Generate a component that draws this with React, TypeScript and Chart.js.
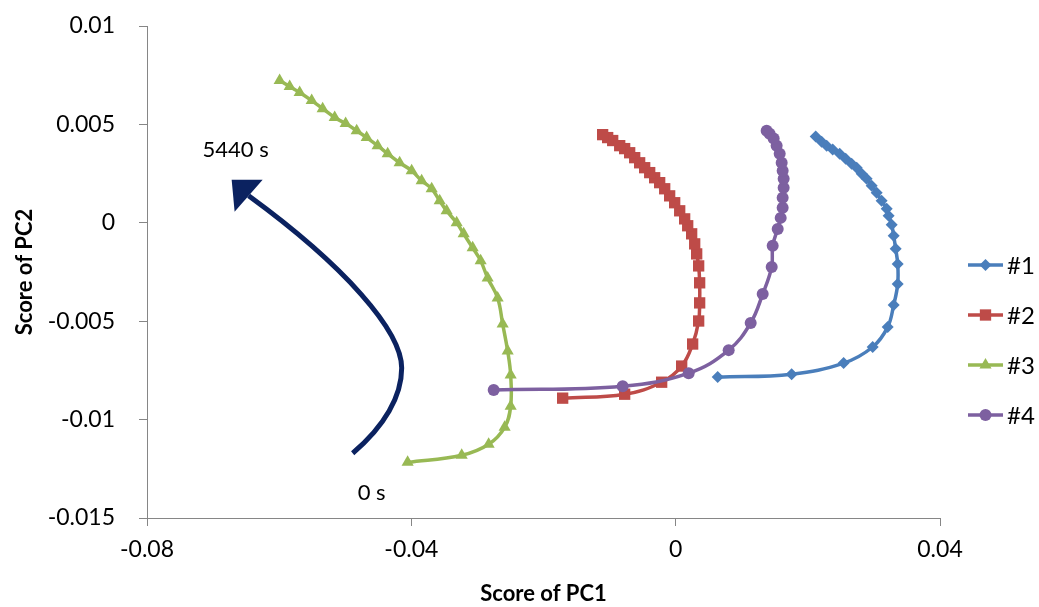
import React, { useEffect, useRef } from 'react';
import { Chart, registerables } from 'chart.js';
import { drawPoint } from 'chart.js/helpers';

Chart.register(...registerables);

// Axis ticks
const xTickValues = [-0.08, -0.04, 0, 0.04];
const xTickLabels = ['-0.08', '-0.04', '0', '0.04'];
const yTickValues = [-0.015, -0.01, -0.005, 0, 0.005, 0.01];
const yTickLabels = ['-0.015', '-0.01', '-0.005', '0', '0.005', '0.01'];

// Score trajectories (PC1, PC2), from 0 s to 5440 s
const s1PC1 = [0.00636, 0.01755, 0.02542, 0.02981, 0.03208, 0.03299, 0.0336, 0.0336, 0.03329, 0.03299, 0.03269, 0.03223, 0.03193, 0.03117, 0.03042, 0.02966, 0.0289, 0.02815, 0.02739, 0.02663, 0.02573, 0.02482, 0.02376, 0.02285, 0.02209, 0.02119];
const s1PC2 = [-0.00784, -0.00769, -0.00713, -0.00631, -0.0053, -0.00418, -0.00311, -0.00209, -0.00132, -0.00066, -0.0001, 0.00036, 0.00071, 0.00112, 0.00153, 0.00188, 0.00224, 0.00249, 0.0028, 0.003, 0.00326, 0.00351, 0.00372, 0.00392, 0.00412, 0.00438];

const s2PC1 = [-0.0171, -0.00772, -0.00212, 0.00091, 0.00257, 0.00348, 0.00363, 0.00363, 0.00348, 0.00318, 0.00288, 0.00242, 0.00182, 0.00136, 0.00061, -0.00015, -0.00091, -0.00166, -0.00242, -0.00318, -0.00393, -0.00469, -0.00545, -0.0062, -0.00696, -0.00772, -0.00847, -0.00953, -0.01029, -0.01105];
const s2PC2 = [-0.00891, -0.00871, -0.0081, -0.00728, -0.00616, -0.00499, -0.00407, -0.00305, -0.00219, -0.00158, -0.00107, -0.00056, -0.00015, 0.0002, 0.00061, 0.00102, 0.00137, 0.00173, 0.00204, 0.00229, 0.00255, 0.0028, 0.00305, 0.00331, 0.00356, 0.00377, 0.00392, 0.00418, 0.00433, 0.00448];

const s3PC1 = [-0.04056, -0.03238, -0.0283, -0.02588, -0.02497, -0.02497, -0.02542, -0.02618, -0.02694, -0.02845, -0.02951, -0.03072, -0.03208, -0.03314, -0.03466, -0.03571, -0.03692, -0.03844, -0.03995, -0.04177, -0.04358, -0.0451, -0.04676, -0.04827, -0.04994, -0.0516, -0.05342, -0.05508, -0.0569, -0.05841, -0.05993];
const s3PC2 = [-0.01217, -0.01181, -0.01125, -0.01039, -0.00932, -0.00774, -0.00652, -0.00514, -0.00382, -0.0028, -0.00193, -0.00127, -0.00056, 0.0, 0.00061, 0.00112, 0.00173, 0.00214, 0.00265, 0.00305, 0.00351, 0.00392, 0.00433, 0.00468, 0.00504, 0.00535, 0.0058, 0.00621, 0.00662, 0.00692, 0.00723];

const s4PC1 = [-0.02754, -0.00802, 0.00197, 0.00802, 0.01135, 0.01317, 0.01453, 0.01468, 0.01544, 0.01589, 0.01619, 0.01619, 0.01634, 0.01634, 0.01619, 0.01604, 0.01574, 0.01528, 0.01483, 0.01422, 0.01377];
const s4PC2 = [-0.0085, -0.0083, -0.00764, -0.00647, -0.00509, -0.00362, -0.00224, -0.00117, -0.00031, 0.00025, 0.00076, 0.00127, 0.00178, 0.00224, 0.00265, 0.00305, 0.00351, 0.00392, 0.00428, 0.00453, 0.00468];

const seriesNames = ['#1', '#2', '#3', '#4'];
const seriesColors = ['#4A7EBB', '#BE4B48', '#98B954', '#7D60A0'];
const seriesMarkers = ['rectRot', 'rect', 'triangle', 'circle'];
const markerRadius = [6, 8, 7, 6];

// Time-direction arrow: two cubic segments [start, c1, c2, end], in PC1/PC2 units
const arrowPC1 = [-0.04888, -0.04404, -0.04146, -0.04146, -0.04146, -0.05009, -0.06462];
const arrowPC2 = [-0.01171, -0.01034, -0.00881, -0.00738, -0.0055, -0.00219, 0.00137];
const arrowHeadPC1 = [-0.06719, -0.0625, -0.06674];
const arrowHeadPC2 = [0.00219, 0.00219, 0.00056];
const timeLabels = ['0 s', '5440 s'];
const timeLabelPC1 = [-0.046, -0.06659];
const timeLabelPC2 = [-0.0137, 0.00372];

const FONT = 'Lato, "Open Sans", sans-serif';
const AXIS_COLOR = '#868686';
const ARROW_COLOR = '#0B2260';

const toPoints = (xs: number[], ys: number[]) => xs.map((x, i) => ({ x, y: ys[i] }));

const labelFor = (values: number[], labels: string[], v: number) => {
  const i = values.findIndex((t) => Math.abs(t - v) < 1e-9);
  return i >= 0 ? labels[i] : '';
};

const decorations = {
  id: 'decorations',
  afterDatasetsDraw(chart: any) {
    const { ctx, scales, chartArea } = chart;
    const sx = scales.x;
    const sy = scales.y;
    const px = (v: number) => sx.getPixelForValue(v);
    const py = (v: number) => sy.getPixelForValue(v);

    // curved arrow
    const p = arrowPC1.map((v, i) => ({ x: px(v), y: py(arrowPC2[i]) }));
    ctx.save();
    ctx.strokeStyle = ARROW_COLOR;
    ctx.lineWidth = 5;
    ctx.lineCap = 'butt';
    ctx.beginPath();
    ctx.moveTo(p[0].x, p[0].y);
    ctx.bezierCurveTo(p[1].x, p[1].y, p[2].x, p[2].y, p[3].x, p[3].y);
    ctx.bezierCurveTo(p[4].x, p[4].y, p[5].x, p[5].y, p[6].x, p[6].y);
    ctx.stroke();
    ctx.fillStyle = ARROW_COLOR;
    ctx.beginPath();
    arrowHeadPC1.forEach((v, i) => {
      const x = px(v);
      const y = py(arrowHeadPC2[i]);
      if (i === 0) ctx.moveTo(x, y);
      else ctx.lineTo(x, y);
    });
    ctx.closePath();
    ctx.fill();

    // time labels
    ctx.fillStyle = '#000';
    ctx.font = `22px ${FONT}`;
    ctx.textAlign = 'center';
    ctx.textBaseline = 'middle';
    timeLabels.forEach((t, i) => ctx.fillText(t, px(timeLabelPC1[i]), py(timeLabelPC2[i])));

    // legend
    const lx = chartArea.right + 28;
    const ly = chartArea.top + 239;
    ctx.font = `24px ${FONT}`;
    ctx.textAlign = 'left';
    seriesNames.forEach((name, i) => {
      const y = ly + i * 50;
      ctx.strokeStyle = seriesColors[i];
      ctx.lineWidth = 3.5;
      ctx.beginPath();
      ctx.moveTo(lx, y);
      ctx.lineTo(lx + 35, y);
      ctx.stroke();
      ctx.fillStyle = seriesColors[i];
      drawPoint(ctx, { pointStyle: seriesMarkers[i], radius: markerRadius[i], rotation: 0, borderWidth: 0 } as any, lx + 17.5, y);
      ctx.fillStyle = '#000';
      ctx.fillText(name, lx + 39, y + 1);
    });
    ctx.restore();
  },
};

export default function App() {
  const ref = useRef<HTMLCanvasElement>(null);

  useEffect(() => {
    document.body.style.margin = '0';
    const all = [
      toPoints(s1PC1, s1PC2),
      toPoints(s2PC1, s2PC2),
      toPoints(s3PC1, s3PC2),
      toPoints(s4PC1, s4PC2),
    ];
    const chart = new Chart(ref.current as HTMLCanvasElement, {
      type: 'scatter',
      data: {
        datasets: all.map((data, i) => ({
          label: seriesNames[i],
          data,
          showLine: true,
          tension: 0.4,
          borderColor: seriesColors[i],
          backgroundColor: seriesColors[i],
          borderWidth: 3.5,
          pointStyle: seriesMarkers[i] as any,
          pointRadius: markerRadius[i],
          pointBorderWidth: 0,
          pointBackgroundColor: seriesColors[i],
          order: seriesNames.length - i,
        })),
      },
      options: {
        animation: false,
        responsive: true,
        maintainAspectRatio: false,
        layout: { padding: { top: 26, right: 99, left: 0, bottom: 0 } },
        plugins: { legend: { display: false }, tooltip: { enabled: false } },
        scales: {
          x: {
            type: 'linear',
            min: -0.08,
            max: 0.04,
            afterBuildTicks: (s: any) => {
              s.ticks = xTickValues.map((value) => ({ value }));
            },
            afterFit: (s: any) => {
              s.height = 89;
            },
            ticks: {
              callback: (v: any) => labelFor(xTickValues, xTickLabels, Number(v)),
              font: { family: FONT, size: 23 },
              color: '#000',
              padding: 10,
              autoSkip: false,
              maxRotation: 0,
            },
            grid: { drawOnChartArea: false, drawTicks: true, tickLength: 8, color: AXIS_COLOR },
            border: { color: AXIS_COLOR, width: 1 },
            title: {
              display: true,
              text: 'Score of PC1',
              font: { family: FONT, size: 22, weight: 'bold' },
              color: '#000',
              padding: { top: 0, bottom: 0 },
            },
          },
          y: {
            type: 'linear',
            min: -0.015,
            max: 0.01,
            afterBuildTicks: (s: any) => {
              s.ticks = yTickValues.map((value) => ({ value }));
            },
            afterFit: (s: any) => {
              s.width = 147;
              s.paddingTop = 0;
              s.paddingBottom = 0;
            },
            ticks: {
              callback: (v: any) => labelFor(yTickValues, yTickLabels, Number(v)),
              font: { family: FONT, size: 23 },
              color: '#000',
              padding: 24,
              autoSkip: false,
            },
            grid: { drawOnChartArea: false, drawTicks: true, tickLength: 8, color: AXIS_COLOR },
            border: { color: AXIS_COLOR, width: 1 },
            title: {
              display: true,
              text: 'Score of PC2',
              font: { family: FONT, size: 22, weight: 'bold' },
              color: '#000',
              padding: { top: 12, bottom: 0 },
            },
          },
        },
      },
      plugins: [decorations],
    });
    return () => chart.destroy();
  }, []);

  return (
    <div style={{ position: 'relative', width: 1039, height: 607 }}>
      <canvas ref={ref} />
    </div>
  );
}
